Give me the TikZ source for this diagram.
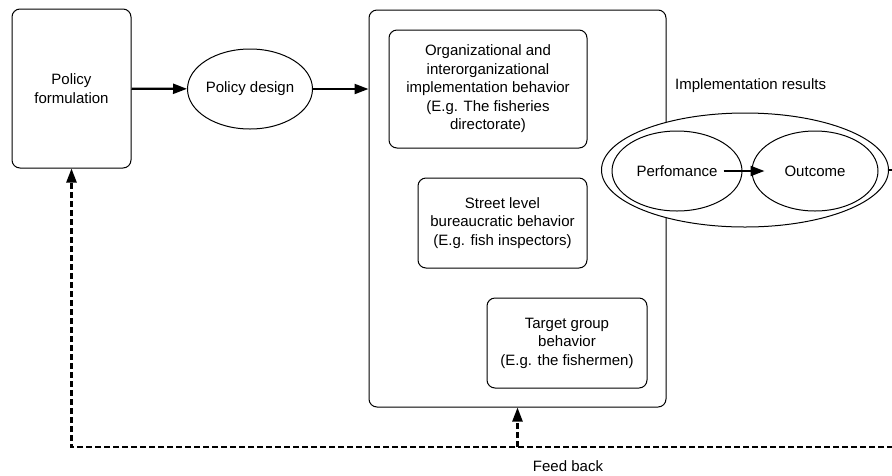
\documentclass[tikz,border=0pt]{standalone}
\usepackage{fontspec}
\setmainfont{Liberation Sans}
\usetikzlibrary{positioning,arrows.meta,shapes.geometric,calc}

\begin{document}
\begin{tikzpicture}[x=1pt, y=-1pt,
    roundBox/.style={rectangle, rounded corners=8pt, draw, fill=white, line width=1pt, align=center, inner sep=0pt, font=\fontsize{15}{18.5}\selectfont},
    ovalNode/.style={ellipse, draw, fill=white, line width=1pt, inner sep=0pt, font=\fontsize{15}{18.5}\selectfont},
    flowArrow/.style={line width=2.2pt, -{Triangle[length=14pt,width=10pt]}},
    feedArrow/.style={line width=2.4pt, dash pattern=on 6pt off 3pt, -{Triangle[length=14pt,width=10pt]}}
]
    \clip (0,0) rectangle (892,475);

    \node[roundBox, minimum width=119pt, minimum height=159pt] (formulation) at (71.5, 88.5) {Policy\\formulation};
    \node[ovalNode, minimum width=120pt, minimum height=80pt] (design) at (250, 89) {Policy design};

    \node[roundBox, minimum width=297pt, minimum height=397pt] (impl) at (517.5, 208.5) {};
    \node[roundBox, minimum width=198pt, minimum height=118pt] (org) at (488, 89) {
        Organizational and\\
        interorganizational\\
        implementation behavior\\
        (E.g. The fisheries\\
        directorate)};
    \node[roundBox, minimum width=169pt, minimum height=90pt] (street) at (502.5, 223) {
        Street level\\
        bureaucratic behavior\\
        (E.g. fish inspectors)};
    \node[roundBox, minimum width=160pt, minimum height=90pt] (target) at (567, 343) {
        Target group\\
        behavior\\
        (E.g. the fishermen)};

    % implementation results
    \node[anchor=west, inner sep=0pt, font=\fontsize{15}{18.5}\selectfont] (resultsLabel) at (675, 86) {Implementation results};
    \node[ovalNode, minimum width=287pt, minimum height=114pt] (results) at (745, 170) {};
    \node[ovalNode, minimum width=130pt, minimum height=80pt] (perf) at (677, 171) {Perfomance};
    \node[ovalNode, minimum width=126pt, minimum height=80pt] (outcome) at (815, 171) {Outcome};

    \draw[flowArrow] (formulation) -- (design);
    \draw[flowArrow] (design) -- (design -| impl.west);
    \draw[flowArrow] ([xshift=-19pt]perf.east) -- ([xshift=13pt]outcome.west);

    % feed back loop
    \coordinate (fbLine) at (0, 447);
    \draw[feedArrow] (results.east) -- ++(30,0) |- (fbLine -| formulation.south) -- (formulation.south);
    \draw[feedArrow] (fbLine -| impl.south) -- (impl.south);
    \node[inner sep=0pt, font=\fontsize{15}{18.5}\selectfont] (feedLabel) at (568, 466) {Feed back};
\end{tikzpicture}
\end{document}
